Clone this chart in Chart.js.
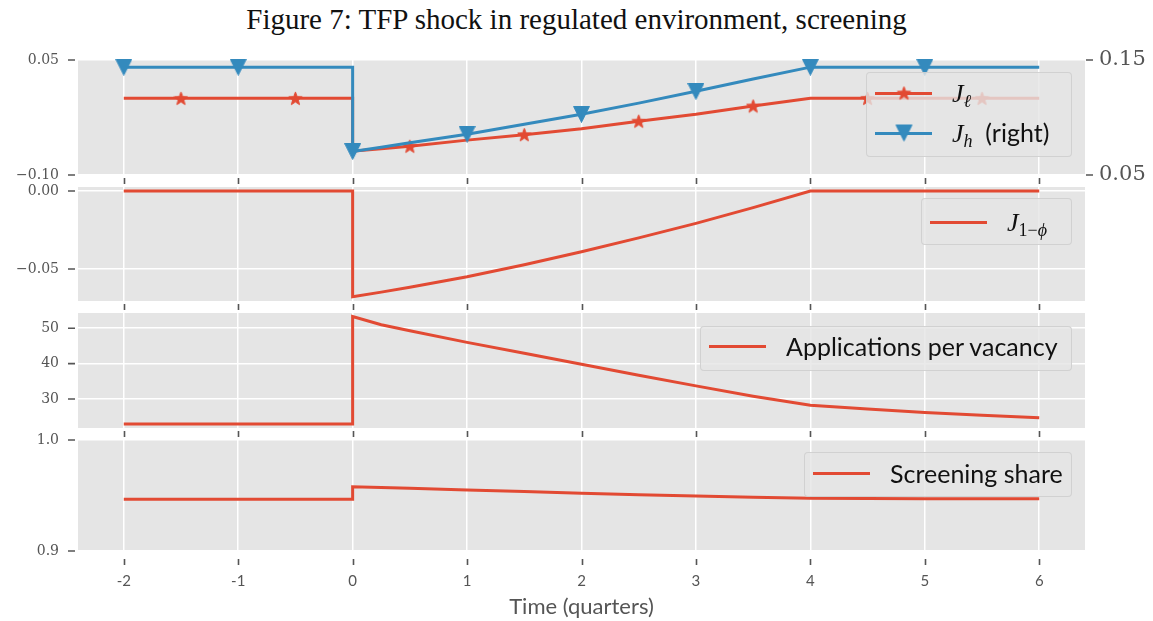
<!DOCTYPE html>
<html>
<head>
<meta charset="utf-8">
<script src="https://cdn.jsdelivr.net/npm/chart.js@4.4.0/dist/chart.umd.min.js"></script>
<style>
    body { margin: 0; background: #fff; }
    #wrap { position: relative; width: 1153px; height: 621px; overflow: hidden; }
    #wrap canvas { position: absolute; left: 0; top: 0; }
    #title {
        position: absolute; left: 0; top: 3px; width: 1153px; text-align: center;
        font-family: "Liberation Serif", serif; font-size: 29px; color: #111;
    }
    .legend {
        position: absolute; box-sizing: border-box;
        background: rgba(229, 229, 229, 0.8);
        border: 1px solid rgba(204, 204, 204, 0.8); border-radius: 4px;
    }
    .row { position: absolute; left: 0; height: 30px; display: flex; align-items: center; white-space: nowrap; }
    .sample { position: relative; width: 57px; height: 30px; margin-left: 8px; flex: none; }
    .sample .ln { position: absolute; left: 0; right: 0; top: 13.5px; height: 3px; }
    .sample img { position: absolute; left: 50%; top: 50%; transform: translate(-50%, -50%); }
    .lab { margin-left: 20px; font-family: Lato, sans-serif; font-size: 25px; color: #111; }
    .math { font-family: "Liberation Serif", serif; font-style: italic; font-size: 26px; }
    .math sub { font-size: 18px; vertical-align: -5px; line-height: 0; }
    .up { font-style: normal; }
</style>
</head>
<body>
<div id="wrap">
    <div id="title">Figure 7: TFP shock in regulated environment, screening</div>
    <canvas id="c1" width="1153" height="621"></canvas>
    <canvas id="c2" width="1153" height="621"></canvas>
    <canvas id="c3" width="1153" height="621"></canvas>
    <canvas id="c4" width="1153" height="621"></canvas>

    <div class="legend" style="left:866px; top:72px; width:206px; height:85px;">
        <div class="row" style="top:5px;">
            <span class="sample"><i class="ln" style="background:#E24A33"></i><img id="legStar" alt=""></span>
            <span class="lab"><span class="math">J<sub>ℓ</sub></span></span>
        </div>
        <div class="row" style="top:45px;">
            <span class="sample"><i class="ln" style="background:#348ABD"></i><img id="legTri" alt=""></span>
            <span class="lab"><span class="math">J<sub>h</sub></span>&nbsp; (right)</span>
        </div>
    </div>
    <div class="legend" style="left:921px; top:198px; width:151px; height:47px;">
        <div class="row" style="top:8px;">
            <span class="sample"><i class="ln" style="background:#E24A33"></i></span>
            <span class="lab"><span class="math">J<sub><span class="up">1−</span>ϕ</sub></span></span>
        </div>
    </div>
    <div class="legend" style="left:700px; top:326px; width:372px; height:45px;">
        <div class="row" style="top:4px;">
            <span class="sample"><i class="ln" style="background:#E24A33"></i></span>
            <span class="lab">Applications per vacancy</span>
        </div>
    </div>
    <div class="legend" style="left:804px; top:452px; width:268px; height:45px;">
        <div class="row" style="top:5px;">
            <span class="sample"><i class="ln" style="background:#E24A33"></i></span>
            <span class="lab">Screening share</span>
        </div>
    </div>
</div>

<script>
// Time grid (quarters); the shock hits at t = 0, so 0 appears twice (before / after)
const time = [-2, -1.5, -1, -0.5, 0, 0, 0.25, 0.5, 1, 1.5, 2, 2.5, 3, 3.5, 4, 4.5, 5, 5.5, 6];

// Panel 1: J_l (left axis) and J_h (right axis)
const jL = [0, 0, 0, 0, 0, -0.0690, -0.0658, -0.0625, -0.0545, -0.0474, -0.0397, -0.0298, -0.0209, -0.0100, 0, 0, 0, 0, 0];
const jH = [0.1438, 0.1438, 0.1438, 0.1438, 0.1438, 0.0705, 0.0742, 0.0781, 0.0855, 0.0942, 0.1028, 0.1125, 0.1228, 0.1334, 0.1438, 0.1438, 0.1438, 0.1438, 0.1438];
// Panel 2: J_{1-phi}
const j1Phi = [0, 0, 0, 0, 0, -0.0678, -0.0648, -0.0617, -0.0549, -0.0472, -0.0389, -0.0300, -0.0207, -0.0106, 0, 0, 0, 0, 0];
// Panel 3: applications per vacancy
const appsPerVacancy = [22.9, 22.9, 22.9, 22.9, 22.9, 53.3, 51.0, 49.3, 46.0, 42.9, 39.8, 36.7, 33.7, 30.8, 28.2, 27.2, 26.2, 25.4, 24.7];
// Panel 4: screening share
const screeningShare = [0.9466, 0.9466, 0.9466, 0.9466, 0.9466, 0.9579, 0.9572, 0.9565, 0.9550, 0.9535, 0.9520, 0.9507, 0.9495, 0.9485, 0.9475, 0.9473, 0.9471, 0.9470, 0.9470];

// which points carry a marker
const jLMarkIdx = [1, 3, 7, 9, 11, 13, 15, 17];
const jHMarkIdx = [0, 2, 5, 8, 10, 12, 14, 16];

// tick labels
const xTicks = [-2, -1, 0, 1, 2, 3, 4, 5, 6];
const p1LeftTicks = [-0.10, 0.05];
const p1RightTicks = [0.05, 0.15];
const p2Ticks = [-0.05, 0.00];
const p3Ticks = [30, 40, 50];
const p4Ticks = [0.9, 1.0];

const RED = '#E24A33';
const BLUE = '#348ABD';
const PANEL_BG = '#E5E5E5';
const TICK_COLOR = '#555555';
const LINE_W = 3;

// small canvases used as point styles (matplotlib '*' and 'v')
function makeMarker(kind, size, color) {
    const c = document.createElement('canvas');
    c.width = size; c.height = size;
    const g = c.getContext('2d');
    g.fillStyle = color; g.strokeStyle = color; g.lineWidth = 1;
    const m = size / 2;
    g.beginPath();
    if (kind === 'star') {
        for (let k = 0; k < 10; k++) {
            const r = k % 2 ? (m - 0.5) * 0.42 : m - 0.5;
            const a = -Math.PI / 2 + k * Math.PI / 5;
            g.lineTo(m + r * Math.cos(a), m + 0.6 + r * Math.sin(a));
        }
    } else {
        g.moveTo(0.5, 0.5); g.lineTo(size - 0.5, 0.5); g.lineTo(m, size - 0.5);
    }
    g.closePath(); g.fill(); g.stroke();
    return c;
}
const starMark = makeMarker('star', 15, RED);
const triMark = makeMarker('tri', 17, BLUE);
document.getElementById('legStar').src = starMark.toDataURL();
document.getElementById('legTri').src = triMark.toDataURL();

const panelBg = {
    id: 'panelBg',
    beforeDraw(chart) {
        const { ctx, chartArea: a } = chart;
        ctx.save();
        ctx.fillStyle = PANEL_BG;
        ctx.fillRect(a.left, a.top, a.right - a.left, a.bottom - a.top);
        ctx.restore();
    }
};

// outward tick marks with the small gap matplotlib leaves
const tickMarks = {
    id: 'tickMarks',
    afterDraw(chart, args, opts) {
        const { ctx, chartArea: a, scales } = chart;
        ctx.save();
        ctx.strokeStyle = TICK_COLOR;
        ctx.lineWidth = 1.6;
        ctx.beginPath();
        scales.x.ticks.forEach(t => {
            const px = Math.round(scales.x.getPixelForValue(t.value)) + 0.5;
            ctx.moveTo(px, a.bottom + opts.xGap);
            ctx.lineTo(px, a.bottom + opts.xGap + 6);
        });
        scales.y.ticks.forEach(t => {
            const py = scales.y.getPixelForValue(t.value);
            ctx.moveTo(a.left - 10, py);
            ctx.lineTo(a.left - 3, py);
        });
        if (scales.y2) {
            scales.y2.ticks.forEach(t => {
                const py = scales.y2.getPixelForValue(t.value);
                ctx.moveTo(a.right + 1, py);
                ctx.lineTo(a.right + 8, py);
            });
        }
        ctx.stroke();
        ctx.restore();
    }
};

function pts(ys) {
    return time.map((t, i) => ({ x: t, y: ys[i] }));
}

function lineSet(ys, color, extra) {
    return Object.assign({
        data: pts(ys),
        borderColor: color,
        backgroundColor: color,
        borderWidth: LINE_W,
        tension: 0,
        pointRadius: 0,
        clip: false
    }, extra || {});
}

function yAxis(min, max, ticks, fmt, extra) {
    return Object.assign({
        type: 'linear',
        position: 'left',
        min: min,
        max: max,
        afterBuildTicks: s => { s.ticks = ticks.map(v => ({ value: v })); },
        afterFit: s => { s.width = 78; },
        grid: { color: '#ffffff', lineWidth: 1.5, drawTicks: false },
        border: { display: false },
        ticks: {
            padding: 19,
            color: TICK_COLOR,
            font: { family: 'DejaVu Serif', size: 14 },
            callback: fmt
        }
    }, extra || {});
}

function xAxis(bottom, showLabels) {
    return {
        type: 'linear',
        min: -2.4,
        max: 6.4,
        afterBuildTicks: s => { s.ticks = xTicks.map(v => ({ value: v })); },
        afterFit: s => { s.height = 621 - bottom; },
        grid: { color: '#ffffff', lineWidth: 1.5, drawTicks: false },
        border: { display: false },
        ticks: {
            display: showLabels,
            padding: 21,
            color: TICK_COLOR,
            font: { family: 'Lato', size: 15 },
            callback: v => String(v)
        },
        title: {
            display: showLabels,
            text: 'Time (quarters)',
            color: TICK_COLOR,
            font: { family: 'Lato', size: 22 },
            padding: { top: 0, bottom: 1 }
        }
    };
}

function signed(v, d) {
    return (v < 0 ? '\u2212' : '') + Math.abs(v).toFixed(d);
}

function makePanel(id, top, bottom, datasets, scales, xGap, padRight) {
    return new Chart(document.getElementById(id), {
        type: 'line',
        data: { datasets: datasets },
        options: {
            responsive: false,
            animation: false,
            events: [],
            layout: { padding: { top: top, left: 0, right: padRight, bottom: 0 } },
            scales: scales,
            plugins: {
                legend: { display: false },
                tooltip: { enabled: false },
                tickMarks: { xGap: xGap }
            }
        },
        plugins: [panelBg, tickMarks]
    });
}

// Panel 1
makePanel('c1', 60, 175, [
    lineSet(jH, BLUE, {
        yAxisID: 'y2', order: 0,
        pointRadius: ctx => jHMarkIdx.includes(ctx.dataIndex) ? 8 : 0,
        pointStyle: triMark
    }),
    lineSet(jL, RED, {
        yAxisID: 'y', order: 1,
        pointRadius: ctx => jLMarkIdx.includes(ctx.dataIndex) ? 7 : 0,
        pointStyle: starMark
    })
], {
    x: xAxis(175, false),
    y: yAxis(-0.10, 0.05, p1LeftTicks, v => signed(v, 2)),
    y2: {
        type: 'linear',
        position: 'right',
        min: 0.05,
        max: 0.15,
        afterBuildTicks: s => { s.ticks = p1RightTicks.map(v => ({ value: v })); },
        afterFit: s => { s.width = 68; },
        grid: { display: false, drawTicks: false },
        border: { display: false },
        ticks: {
            padding: 14,
            color: TICK_COLOR,
            font: { family: 'DejaVu Serif', size: 21 },
            callback: v => v.toFixed(2)
        }
    }
}, 3, 0);

// Panel 2
makePanel('c2', 187, 301, [lineSet(j1Phi, RED)], {
    x: xAxis(301, false),
    y: yAxis(-0.0705, 0.0026, p2Ticks, v => signed(v, 2))
}, 3, 68);

// Panel 3
makePanel('c3', 313, 428, [lineSet(appsPerVacancy, RED)], {
    x: xAxis(428, false),
    y: yAxis(21.8, 54.3, p3Ticks, v => v.toFixed(0))
}, 3, 68);

// Panel 4
makePanel('c4', 440, 551, [lineSet(screeningShare, RED)], {
    x: xAxis(551, true),
    y: yAxis(0.9, 1.0, p4Ticks, v => v.toFixed(1))
}, 8, 68);
</script>
</body>
</html>
